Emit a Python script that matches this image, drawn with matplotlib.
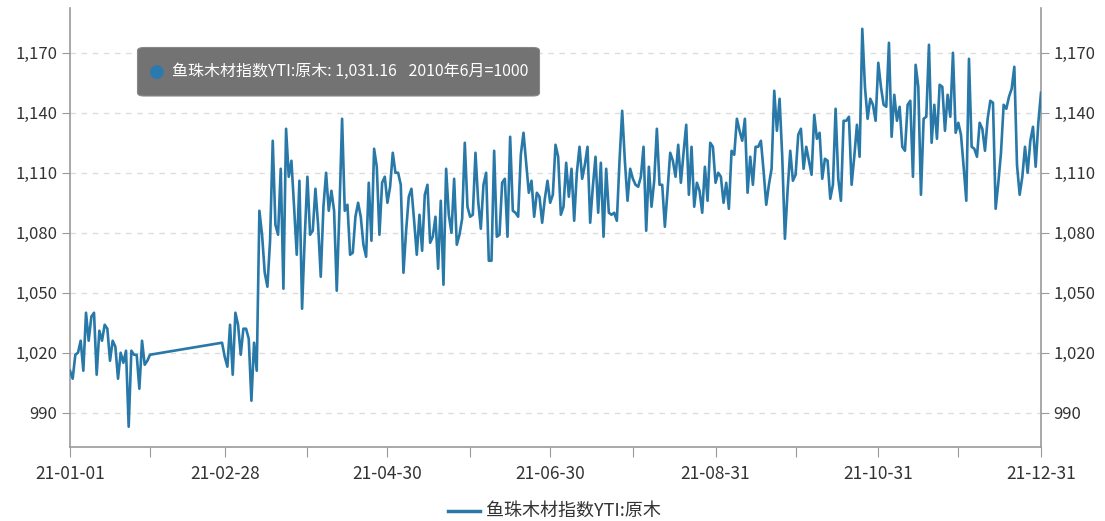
import matplotlib
matplotlib.use('Agg')
import matplotlib.pyplot as plt
from matplotlib.patches import FancyBboxPatch
import pandas as pd

plt.rcParams['font.family'] = ['Noto Sans CJK SC', 'DejaVu Sans']

series_name = '鱼珠木材指数YTI:原木'
tooltip_value = '1,031.16'
tooltip_note = '2010年6月=1000'

# 日度数据 (2月初至2月26日缺失)
jan = [1011, 1007, 1019, 1020, 1026, 1011, 1040, 1026, 1038, 1040,
       1009, 1031, 1026, 1034, 1032, 1016, 1026, 1023, 1007, 1020,
       1015, 1021, 983, 1021, 1019, 1019, 1002, 1026, 1014, 1016,
       1019]
feb = [1025, 1018]  # 02-27 起
mar = [1013, 1034, 1009, 1040, 1034, 1019, 1032, 1032, 1027, 996,
       1025, 1011, 1091, 1079, 1060, 1053, 1076, 1126, 1084, 1079,
       1112, 1052, 1132, 1108, 1116, 1093, 1069, 1106, 1042, 1078,
       1108]
apr = [1079, 1081, 1102, 1084, 1058, 1093, 1110, 1091, 1101, 1091,
       1051, 1091, 1137, 1091, 1094, 1069, 1070, 1088, 1095, 1088,
       1074, 1068, 1105, 1076, 1122, 1113, 1079, 1105, 1108, 1095]
may = [1103, 1120, 1110, 1110, 1104, 1060, 1081, 1098, 1102, 1086,
       1069, 1089, 1071, 1099, 1104, 1075, 1078, 1088, 1062, 1096,
       1054, 1112, 1089, 1080, 1107, 1074, 1079, 1087, 1125, 1093,
       1088]
jun = [1089, 1120, 1096, 1082, 1104, 1110, 1066, 1066, 1121, 1078,
       1079, 1105, 1107, 1078, 1128, 1091, 1090, 1088, 1119, 1130,
       1115, 1100, 1106, 1088, 1100, 1098, 1085, 1097, 1106, 1095]
jul = [1099, 1124, 1118, 1089, 1093, 1115, 1098, 1112, 1086, 1110,
       1123, 1107, 1114, 1123, 1085, 1103, 1118, 1090, 1115, 1078,
       1112, 1090, 1089, 1090, 1086, 1116, 1141, 1116, 1096, 1112,
       1107]
aug = [1104, 1103, 1108, 1123, 1081, 1113, 1093, 1106, 1132, 1104,
       1104, 1083, 1101, 1120, 1116, 1108, 1124, 1105, 1120, 1134,
       1099, 1123, 1093, 1105, 1101, 1090, 1113, 1096, 1125, 1123,
       1105]
sep = [1110, 1108, 1095, 1105, 1092, 1121, 1119, 1137, 1131, 1126,
       1137, 1100, 1118, 1104, 1123, 1123, 1126, 1111, 1094, 1104,
       1112, 1151, 1131, 1147, 1118, 1077, 1101, 1121, 1106, 1109]
oct_ = [1129, 1132, 1112, 1123, 1116, 1109, 1139, 1127, 1130, 1107,
        1117, 1116, 1097, 1104, 1142, 1107, 1096, 1136, 1136, 1138,
        1104, 1118, 1134, 1118, 1182, 1153, 1137, 1147, 1144, 1136,
        1165]
nov = [1153, 1144, 1143, 1175, 1128, 1149, 1136, 1143, 1123, 1121,
       1144, 1146, 1108, 1164, 1153, 1099, 1137, 1138, 1174, 1125,
       1144, 1127, 1154, 1153, 1131, 1149, 1138, 1170, 1130, 1135]
dec = [1129, 1113, 1096, 1167, 1123, 1122, 1118, 1135, 1132, 1121,
       1137, 1146, 1145, 1092, 1105, 1120, 1144, 1142, 1148, 1152,
       1163, 1114, 1099, 1108, 1123, 1110, 1126, 1133, 1113, 1135,
       1150]

segments = [('2021-01-01', jan), ('2021-02-27', feb), ('2021-03-01', mar),
            ('2021-04-01', apr), ('2021-05-01', may), ('2021-06-01', jun),
            ('2021-07-01', jul), ('2021-08-01', aug), ('2021-09-01', sep),
            ('2021-10-01', oct_), ('2021-11-01', nov), ('2021-12-01', dec)]

dates = []
values = []
for start, vals in segments:
    dates.extend(pd.date_range(start, periods=len(vals), freq='D'))
    values.extend(vals)

tick_dates = pd.to_datetime(['2021-01-01', '2021-01-31', '2021-02-28', '2021-03-31',
                             '2021-04-30', '2021-05-31', '2021-06-30', '2021-07-31',
                             '2021-08-31', '2021-09-30', '2021-10-31', '2021-11-30',
                             '2021-12-31'])
y_ticks = [990, 1020, 1050, 1080, 1110, 1140, 1170]

line_color = '#2878a8'
axis_color = '#9a9a9a'

fig = plt.figure(figsize=(11.05, 5.21), dpi=100)
ax = fig.add_axes([70 / 1105, 1 - 446.7 / 521, 971 / 1105, (446.7 - 8) / 521])

ax.plot(dates, values, color=line_color, lw=1.9, zorder=3)

ax.set_xlim(pd.Timestamp('2021-01-01'), pd.Timestamp('2021-12-31'))
ax.set_ylim(973, 1192.4)

ax.set_yticks(y_ticks)
ax.set_yticklabels([f'{v:,}' for v in y_ticks])
ax.yaxis.grid(True, color='#dddddd', linestyle=(0, (4, 4)), lw=1)
ax.tick_params(axis='y', which='both', left=True, right=True, labelleft=True,
               labelright=True, length=6, color=axis_color, labelsize=12,
               labelcolor='#333333', pad=3)

ax.set_xticks(tick_dates)
ax.set_xticklabels([d.strftime('%y-%m-%d') if i % 2 == 0 else ''
                    for i, d in enumerate(tick_dates)])
ax.tick_params(axis='x', length=7, color=axis_color, labelsize=12.5,
               labelcolor='#333333', pad=6)

for side in ['left', 'right', 'bottom']:
    ax.spines[side].set_color(axis_color)
    ax.spines[side].set_linewidth(1.2)
ax.spines['top'].set_visible(False)

# 图例
fig.lines.append(plt.Line2D([448 / 1105, 480 / 1105], [1 - 510.5 / 521] * 2,
                            transform=fig.transFigure, color=line_color, lw=2.5))
fig.text(486 / 1105, 1 - 510.5 / 521, series_name, fontsize=13, color='#333333',
         va='center', ha='left')

# 提示框
box = FancyBboxPatch((137.5 / 1105, 1 - 96 / 521), 402 / 1105, 48.5 / 521,
                     boxstyle='round,pad=0,rounding_size=0.006',
                     transform=fig.transFigure, facecolor='#737373',
                     edgecolor='#888888', lw=0.8, zorder=10)
fig.patches.append(box)
fig.text(156.5 / 1105, 1 - 72 / 521, '●', fontsize=13, color='#2a7ab0',
         va='center', ha='center', zorder=11, family=['DejaVu Sans'])
fig.text(172 / 1105, 1 - 71.5 / 521,
         f'{series_name}: {tooltip_value}\u2002 {tooltip_note}',
         fontsize=11.5, color='white', va='center', ha='left', zorder=11)

fig.savefig('out.png', dpi=100)
